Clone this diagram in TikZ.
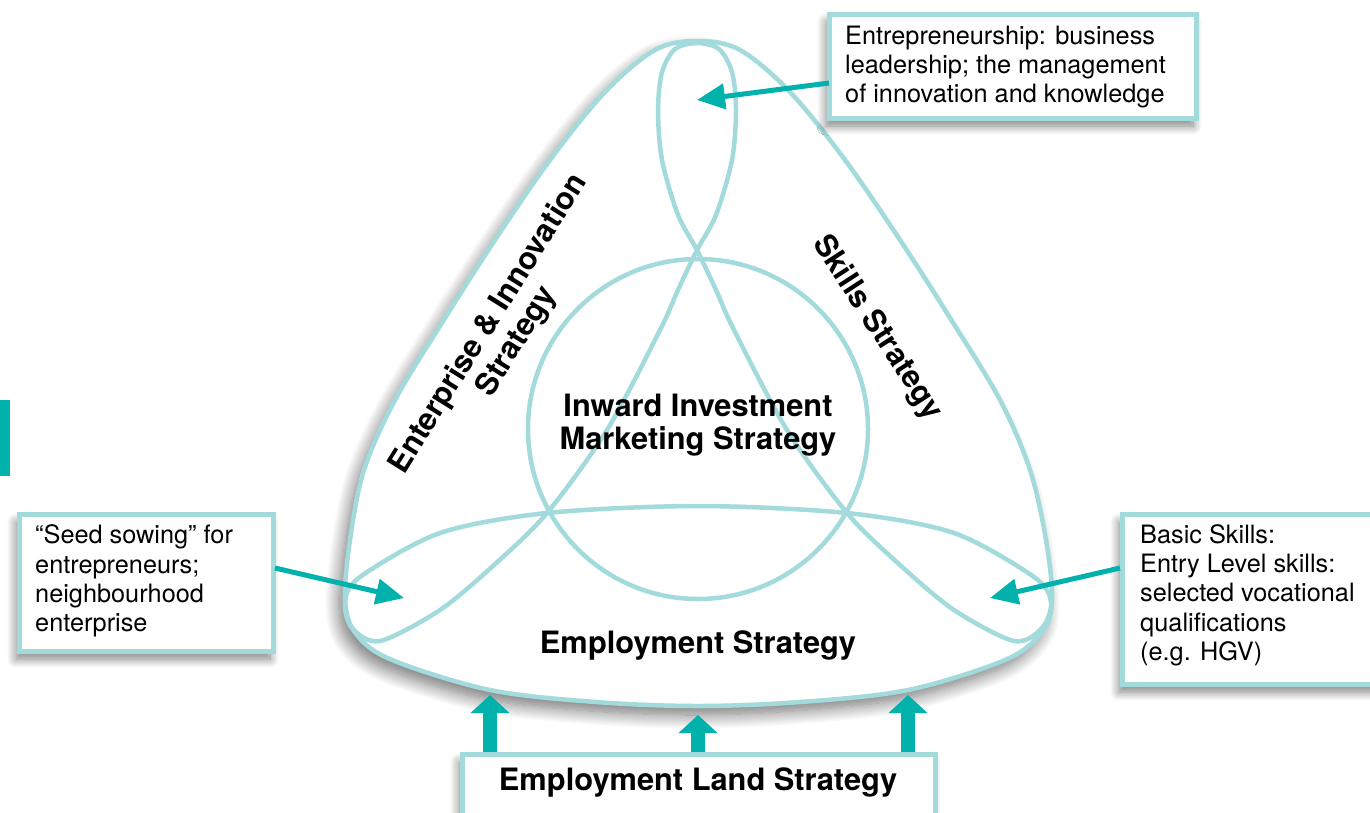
\documentclass[tikz,border=0pt]{standalone}
\usepackage{fontspec}
\setmainfont{TeX Gyre Heros}
\usetikzlibrary{arrows.meta,shadows.blur}
\definecolor{rim}{HTML}{A3DADB}
\definecolor{tealx}{HTML}{00B1AC}
\tikzset{
  rimline/.style={draw=rim, line width=4.5pt},
  callbox/.style={rectangle, draw=rim, line width=5pt, fill=white, inner sep=0pt,
    blur shadow={shadow xshift=-3pt, shadow yshift=-8pt, shadow blur radius=9pt, shadow blur steps=12, shadow opacity=50}},
  calltext/.style={anchor=west, align=left, inner sep=0pt, font=\fontsize{25.3}{29.3}\selectfont},
  boldlabel/.style={align=center, inner sep=0pt, font=\bfseries\fontsize{30.8}{33}\selectfont},
  callarrow/.style={draw=tealx, line width=5pt, -{Triangle[length=28pt,width=25pt]}},
  blockarrow/.style={draw=tealx, line width=14pt, -{Triangle[length=18pt,width=38pt]}}
}
\begin{document}
\begin{tikzpicture}[x=1pt,y=-1pt]
\useasboundingbox (0,0) rectangle (1370,812);

% left-edge teal tab (cropped)
\fill[tealx] (-20,400) rectangle (10,476);

% outer rounded triangle
\draw[rimline, fill=white,
  blur shadow={shadow xshift=-6pt, shadow yshift=-9pt, shadow blur radius=14pt, shadow blur steps=16, shadow opacity=55}]
  plot[smooth cycle, tension=0.55] coordinates {
  (697,41) (740,50) (790,92) (845,160) (900,240) (950,318) (1000,400) (1030,470)
  (1046,540) (1052,600) (1042,632) (1005,660) (908,690) (800,702) (698,706)
  (596,702) (490,690) (392,660) (356,634) (345,600) (350,540) (364,470)
  (395,400) (445,318) (495,240) (550,160) (605,92) (655,50)};

% central circle
\draw[rimline] (698,429) circle[radius=170];

% trefoil curve
\draw[rimline] plot[smooth cycle, tension=0.5] coordinates {
  (697,43) (675,49) (662,72) (658,110) (662,160) (678,215) (697,250) (716,290)
  (734,330) (787,430) (847,513) (900,565) (954,610) (1014,641) (1042,628)
  (1051,602) (1034,577) (954,533) (847,513) (697,506) (547,513) (440,533)
  (360,577) (345,602) (352,628) (380,641) (440,610) (494,565) (547,513)
  (607,430) (660,330) (678,290) (697,250) (716,215) (732,160) (736,110)
  (732,72) (719,49)};

% labels inside
\node[boldlabel] (inward) at (698,425) {Inward Investment\\Marketing Strategy};
\node[boldlabel] (employ) at (698,645) {Employment Strategy};
\node[boldlabel, rotate=58] (enterprise) at (503,333) {Enterprise \& Innovation\\Strategy};
\node[boldlabel, rotate=-57] (skills) at (877,328) {Skills Strategy};

% callout boxes
\node[callbox, minimum width=367pt, minimum height=104pt] (b1) at (1012.5,66) {};
\node[calltext] (t1) at (845,67) {Entrepreneurship: business\\leadership; the management\\of innovation and knowledge};

\node[callbox, minimum width=254pt, minimum height=137pt] (b2) at (146,582.5) {};
\node[calltext] (t2) at (35,581) {“Seed sowing” for\\entrepreneurs;\\neighbourhood\\enterprise};

\node[callbox, minimum width=290pt, minimum height=170pt] (b3) at (1267,599) {};
\node[calltext] (t3) at (1140,595) {Basic Skills:\\Entry Level skills:\\selected vocational\\qualifications\\(e.g. HGV)};

\node[callbox, minimum width=473pt, minimum height=90pt] (b4) at (698.5,799) {};
\node[boldlabel] (land) at (698,782) {Employment Land Strategy};

% callout arrows
\coordinate (s1) at (829,83);  \coordinate (e1) at (697,100);
\coordinate (s2) at (275,568); \coordinate (e2) at (404,598);
\coordinate (s3) at (1120,568);\coordinate (e3) at (990,598);
\draw[callarrow] (s1) -- (e1);
\draw[callarrow] (s2) -- (e2);
\draw[callarrow] (s3) -- (e3);

% block arrows from Employment Land Strategy
\coordinate (u1) at (490,752); \coordinate (v1) at (490,695);
\coordinate (u2) at (698,752); \coordinate (v2) at (698,715);
\coordinate (u3) at (908,752); \coordinate (v3) at (908,695);
\draw[blockarrow] (u1) -- (v1);
\draw[blockarrow] (u2) -- (v2);
\draw[blockarrow] (u3) -- (v3);
\end{tikzpicture}
\end{document}
